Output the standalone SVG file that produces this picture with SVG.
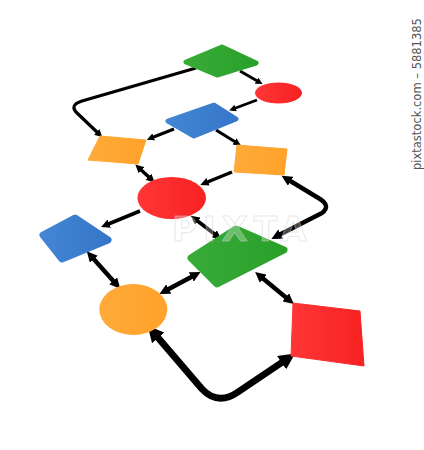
<svg xmlns="http://www.w3.org/2000/svg" width="424" height="450" viewBox="0 0 424 450">
<defs>
<marker id="ah" viewBox="0 0 10 10" refX="4" refY="5" markerWidth="2.4" markerHeight="2.4" markerUnits="strokeWidth" orient="auto-start-reverse">
<path d="M0,0 L10,5 L0,10 z" fill="#000"/>
</marker>
<linearGradient id="gG" x1="0" y1="0" x2="1" y2="0"><stop offset="0" stop-color="#38aa38"/><stop offset="1" stop-color="#29a129"/></linearGradient>
<linearGradient id="gB" x1="0" y1="0" x2="1" y2="0"><stop offset="0" stop-color="#4386d4"/><stop offset="1" stop-color="#3676c9"/></linearGradient>
<linearGradient id="gR" x1="0" y1="0" x2="1" y2="0"><stop offset="0" stop-color="#ff3636"/><stop offset="1" stop-color="#f72222"/></linearGradient>
<linearGradient id="gO" x1="0" y1="0" x2="1" y2="0"><stop offset="0" stop-color="#ffaa3a"/><stop offset="1" stop-color="#ffa22a"/></linearGradient>
</defs>
<style>
.c{fill:none;stroke:#000;stroke-linecap:butt;stroke-linejoin:round}
.both{marker-start:url(#ah);marker-end:url(#ah)}
.end{marker-end:url(#ah)}
.rg{stroke-linejoin:round}
.g{fill:url(#gG);stroke:url(#gG)}
.b{fill:url(#gB);stroke:url(#gB)}
.r{fill:url(#gR);stroke:url(#gR)}
.o{fill:url(#gO);stroke:url(#gO)}
.wm{font-family:"DejaVu Sans",sans-serif}
</style>
<g id="connectors">
<path class="c end" stroke-width="3.2" d="M196,68 L82,101 Q69,105 77,113 L99,134"/>
<path class="c end" stroke-width="2.9" d="M240,71 L259,82"/>
<path class="c end" stroke-width="2.9" d="M257,100 L233,109"/>
<path class="c end" stroke-width="3.1" d="M174,129 L151,138"/>
<path class="c end" stroke-width="3.1" d="M216,130 L237,143"/>
<path class="c both" stroke-width="3.5" d="M139,168 L151,179"/>
<path class="c end" stroke-width="3.5" d="M232,172 L205,183"/>
<path class="c both" stroke-width="4.4" d="M287,179 L320,199 Q331,206 322,213 L277,236"/>
<path class="c end" stroke-width="3.7" d="M140,211 L106,225"/>
<path class="c both" stroke-width="3.7" d="M195,219 L217,236"/>
<path class="c both" stroke-width="4.4" d="M91,256 L116,284"/>
<path class="c both" stroke-width="4.4" d="M195,275 L165,291"/>
<path class="c both" stroke-width="4.4" d="M260,276 L289,300"/>
<path class="c both" stroke-width="6.8" d="M154,333 L202,389 Q218,406 238,392 L287,359"/>
</g>
<g id="n1"><polygon class="g rg" stroke-width="5" points="186,62 222,47 256,63 217,75"/></g>
<g id="n2"><ellipse class="r" stroke-width="0" cx="278.5" cy="93" rx="23.5" ry="10.5"/></g>
<g id="n3"><polygon class="b rg" stroke-width="5" points="168,121 214,105 236,119 194,136"/></g>
<g id="n4"><polygon class="o rg" stroke-width="1" points="100,136 146,140 138,164 88,160"/></g>
<g id="n5"><polygon class="o rg" stroke-width="1" points="237,145 287,149 284,175 234,172"/></g>
<g id="n6"><ellipse class="r" stroke-width="0" cx="171.7" cy="198" rx="34.3" ry="21"/></g>
<g id="n7"><polygon class="b rg" stroke-width="7" points="43,235 75,218 108,240 62,259"/></g>
<g id="n8"><polygon class="g rg" stroke-width="7" points="191,258 236,229 284,250 217,284"/></g>
<g id="n9"><ellipse class="o" stroke-width="0" cx="133.3" cy="309.5" rx="34" ry="25.5"/></g>
<g id="n10"><polygon class="r rg" stroke-width="1" points="293,303 360,311 364,366 291,356"/></g>
<text class="wm" x="172" y="241" font-size="34" font-weight="bold" letter-spacing="6" fill="#ffffff" fill-opacity="0.3" stroke="#cccccc" stroke-opacity="0.45" stroke-width="1">PIXTA</text>
<text class="wm" transform="translate(421,170) rotate(-90)" font-size="11.5" fill="#555">pixtastock.com – 5881385</text>
</svg>
